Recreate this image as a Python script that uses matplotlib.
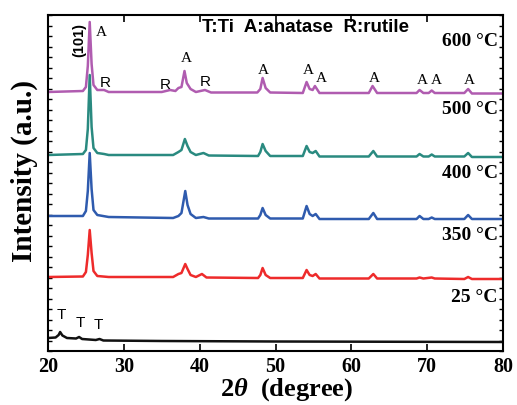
import matplotlib
matplotlib.use("Agg")
import matplotlib.pyplot as plt
from matplotlib.ticker import MultipleLocator

plt.rcParams['mathtext.fontset'] = 'custom'
plt.rcParams['mathtext.rm'] = 'Liberation Serif:bold'
plt.rcParams['mathtext.bf'] = 'Liberation Serif:bold'
plt.rcParams['mathtext.it'] = 'Liberation Serif:bold:italic'

# ---- data (2theta in degree, intensity in a.u., offset stacked) ----
x_600 = [20, 24.6, 25.0, 25.25, 25.5, 25.75, 26.0, 26.5, 27.4, 28, 35.0, 36.1, 36.8, 37.2, 37.6,
         38.0, 38.3, 38.8, 39.5, 40.7, 41.5, 47.6, 48.0, 48.3, 48.7, 49.3, 53.6, 54.1, 54.5,
         54.9, 55.2, 55.8, 62.3, 62.8, 63.4, 68.6, 69.0, 69.5, 70.2, 70.6, 71.0, 74.9, 75.4,
         75.9, 80]
y_600 = [259, 260, 264, 285, 329, 287, 266, 261, 261, 259, 259, 261, 260, 263, 264,
         280, 268, 262, 259, 261, 258.5, 258.5, 262, 273, 263, 258.5, 258, 269, 262,
         261, 265, 258, 258, 265, 258, 258, 261, 258, 258, 260.5, 258, 258, 262,
         257.5, 257.5]

x_500 = [20, 24.6, 25.0, 25.25, 25.5, 25.75, 26.0, 26.5, 27.4, 28, 36.5, 37.2, 37.6, 38.05,
         38.4, 38.8, 39.5, 40.5, 41.2, 47.7, 48.0, 48.3, 48.7, 49.3, 53.6, 54.1, 54.5, 54.9,
         55.3, 55.8, 62.3, 62.9, 63.4, 68.6, 69.0, 69.5, 70.2, 70.6, 71.0, 74.9, 75.4, 75.9, 80]
y_500 = [196, 197, 201, 222, 276, 224, 203, 198, 197, 196, 196, 199, 201, 212,
         205, 199, 196, 198, 195.5, 195, 199, 207, 200, 195, 195, 205, 199, 198,
         200, 194.5, 194.5, 200, 194.5, 194.5, 197, 194.5, 194.5, 196.5, 194.5, 194.5, 198, 194, 194]

x_400 = [20, 24.6, 25.0, 25.25, 25.5, 25.75, 26.0, 26.5, 28, 36.5, 37.2, 37.6, 38.1, 38.4,
         38.8, 39.5, 40.5, 41.2, 47.7, 48.0, 48.3, 48.7, 49.3, 53.6, 54.1, 54.5, 54.9, 55.3,
         55.8, 62.3, 62.9, 63.4, 68.6, 69.0, 69.5, 70.2, 70.6, 71.0, 74.9, 75.4, 75.9, 80]
y_400 = [135, 135, 140, 160, 198, 162, 141, 136, 134, 133, 135, 138, 160, 146,
         137, 133, 134, 132.5, 132.5, 136, 143, 136, 132.5, 132.5, 145, 137, 135, 137,
         132, 132, 138, 132, 132, 135, 132, 132, 133.5, 132, 132, 136, 132, 132]

x_350 = [20, 24.6, 25.0, 25.25, 25.5, 25.75, 26.0, 26.5, 28, 36.5, 37.2, 37.6, 38.1, 38.4,
         38.8, 39.5, 40.3, 40.9, 47.7, 48.0, 48.3, 48.7, 49.3, 53.6, 54.1, 54.5, 54.9, 55.3,
         55.8, 62.3, 62.9, 63.4, 68.6, 69.0, 69.5, 70.6, 71.0, 74.9, 75.4, 75.9, 80]
y_350 = [74, 74.5, 79, 96, 121, 98, 80, 75, 74, 74, 77, 78, 87, 82,
         76, 74, 77, 73.5, 73, 76, 83, 76, 73, 73, 81, 76, 75, 77,
         72.5, 72.5, 77, 72.5, 72.5, 73.5, 72.5, 73.5, 72.5, 72, 74, 72, 72]

x_25 = [20, 21.0, 21.4, 21.6, 21.9, 22.5, 23.7, 24.1, 24.5, 26.3, 26.8, 27.3, 35, 50, 80]
y_25 = [13, 13.5, 16, 19, 15.5, 13, 12.5, 14, 12, 11, 12, 10.5, 10, 9.5, 9]

series = [
    ("25 °C", x_25, y_25, "#111111"),
    ("350 °C", x_350, y_350, "#EE2B2B"),
    ("400 °C", x_400, y_400, "#2F5BAE"),
    ("500 °C", x_500, y_500, "#2A8A80"),
    ("600 °C", x_600, y_600, "#B05CB0"),
]

temp_labels = ["600 °C", "500 °C", "400 °C", "350 °C", "25 °C"]
x_ticks = [20, 30, 40, 50, 60, 70, 80]

# ---- figure ----
fig = plt.figure(figsize=(5.17, 4.05), dpi=100)
ax = fig.add_axes([48 / 517, 1 - 351 / 405, 455 / 517, 336 / 405])

for name, xs, ys, c in series:
    ax.plot(xs, ys, color=c, lw=1.8, solid_joinstyle='round')

ax.set_xlim(20, 80)
ax.set_ylim(0, 336)
ax.set_xticks(x_ticks)
ax.yaxis.set_major_locator(MultipleLocator(10.5))
ax.set_yticklabels([])
ax.tick_params(axis='x', direction='in', top=True, length=5, width=1.2, pad=4)
ax.tick_params(axis='y', direction='in', left=True, right=True, length=3, width=1.0)
for lab in ax.get_xticklabels():
    lab.set_fontfamily('Liberation Serif')
    lab.set_fontweight('bold')
    lab.set_fontsize(14.5)
for s in ax.spines.values():
    s.set_linewidth(1.5)

ax.set_xlabel(r'$2\theta$  (degree)', fontfamily='Liberation Serif', fontweight='bold',
              fontsize=19)
ax.xaxis.set_label_coords(0.525, -0.076)
ax.set_ylabel('Intensity (a.u.)', fontfamily='Liberation Serif', fontweight='bold',
              fontsize=21)
ax.yaxis.set_label_coords(-0.022, 0.535)

# temperature labels
temp_y = [309, 241, 178, 116, 54]
for t, yy in zip(temp_labels, temp_y):
    ax.text(79.3, yy, t, ha='right', va='center', fontfamily='Liberation Serif',
            fontweight='bold', fontsize=14)

# legend-like title
ax.text(54.0, 324, "T:Ti  A:anatase  R:rutile", ha='center', va='center',
        fontfamily='Liberation Sans', fontweight='bold', fontsize=13.5)

# peak annotations
ax.text(24.1, 311, "(101)", rotation=90, ha='center', va='center',
        fontfamily='Liberation Sans', fontweight='bold', fontsize=10.5)
A_pos = [(27.1, 318), (38.3, 292), (48.4, 281), (54.3, 281), (56.1, 273), (63.0, 273),
         (69.3, 270), (71.2, 270), (75.5, 271)]
for xx, yy in A_pos:
    ax.text(xx, yy, "A", ha='center', va='center', fontfamily='Liberation Serif', fontsize=11)
R_pos = [(27.5, 268), (35.4, 266), (40.8, 269)]
for xx, yy in R_pos:
    ax.text(xx, yy, "R", ha='center', va='center', fontfamily='Liberation Sans', fontsize=11)
T_pos = [(21.7, 36), (24.2, 28), (26.7, 26)]
for xx, yy in T_pos:
    ax.text(xx, yy, "T", ha='center', va='center', fontfamily='Liberation Sans', fontsize=11)

fig.savefig("out.png", dpi=100)
